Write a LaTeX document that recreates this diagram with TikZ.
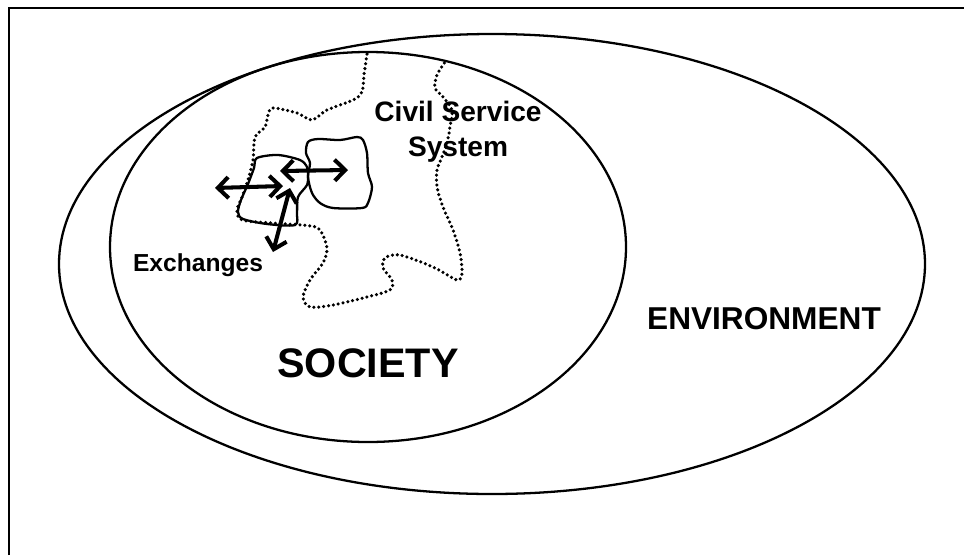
\documentclass[tikz,border=0pt]{standalone}
\usepackage{fontspec}
\setmainfont{Liberation Sans}
\usetikzlibrary{arrows.meta}

\tikzset{
    rim/.style={line width=1.3pt},
    dots/.style={line width=2pt, line cap=round, dash pattern=on 0pt off 2.8pt},
    xchg/.style={line width=2.3pt,
        {Straight Barb[length=6pt,width=12pt]}-{Straight Barb[length=6pt,width=12pt]}},
    lbl/.style={anchor=base, inner sep=0pt}
}

\begin{document}
\begin{tikzpicture}[x = 0.02cm, y = -0.02cm]

    \useasboundingbox (0,0) rectangle (964,555);

    % Cornice (solo lato sinistro e superiore)
    \draw[rim] (9,555) -- (9,8) -- (964,8);

    % Ambiente (ovale esterno)
    \draw[rim] (492,264) ellipse [x radius=433, y radius=230];

    % Societa' (ellisse interna)
    \draw[rim] (368,247) ellipse [x radius=258, y radius=195];

    % Sistema del servizio civile (bordo puntinato, aperto in alto)
    \draw[dots] plot[smooth, tension=0.5] coordinates {
        (367,54) (364,75) (362,92) (353,100) (327,110) (312,120)
        (297,113) (273,108) (268,115) (265,127) (255,137) (253,160)
        (248,180) (242,197) (237,210) (242,220) (272,223) (302,225)
        (318,228) (325,240) (327,250) (323,263) (310,280) (303,297)
        (310,307) (333,305) (367,297) (390,290) (392,280) (383,268)
        (385,258) (400,255) (433,267) (457,280) (462,273) (460,253)
        (453,230) (443,207) (437,187) (437,170) (442,157) (447,143)
        (450,127) (452,110) (443,97) (435,88) (437,75) (445,62)};

    % Organizzazioni
    \draw[rim] plot[smooth cycle, tension=0.5] coordinates {
        (257,158) (278,155) (300,160) (307,167) (308,175) (307,185)
        (298,197) (297,213) (295,225) (267,224) (243,219) (238,212)
        (241,200) (248,184) (254,168)};
    \draw[rim] plot[smooth cycle, tension=0.5] coordinates {
        (308,142) (318,139) (340,140) (357,137) (363,140) (367,153)
        (368,173) (372,187) (368,203) (362,208) (333,208) (320,203)
        (312,193) (308,177) (310,163) (306,153)};

    % Scambi
    \coordinate (ex1) at (215,188);
    \coordinate (ex2) at (283,186);
    \coordinate (ex3) at (280,171);
    \coordinate (ex4) at (348,170);
    \coordinate (ex5) at (290,188);
    \coordinate (ex6) at (273,252);
    \draw[xchg] (ex1) -- (ex2);
    \draw[xchg] (ex3) -- (ex4);
    \draw[xchg] (ex5) -- (ex6);

    % Etichette
    \node[lbl, font=\bfseries\fontsize{23.5}{28}\selectfont] (society) at (368,377) {SOCIETY};
    \node[lbl, font=\bfseries\fontsize{18}{22}\selectfont] (environment) at (764,329) {ENVIRONMENT};
    \node[inner sep=0pt, align=center, font=\bfseries\fontsize{16}{19.8}\selectfont] (civil) at (458,132) {Civil Service\\System};
    \node[lbl, font=\bfseries\fontsize{14}{17}\selectfont] (exchanges) at (198,271) {Exchanges};

\end{tikzpicture}
\end{document}
